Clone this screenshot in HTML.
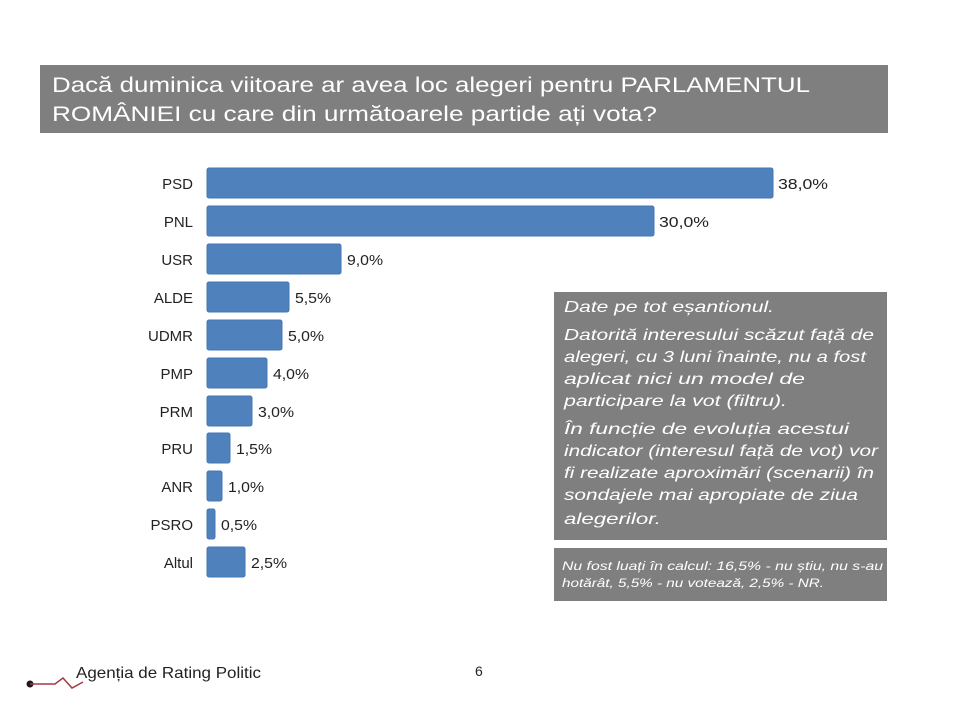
<!DOCTYPE html>
<html>
<head>
<meta charset="utf-8">
<style>
html,body{margin:0;padding:0;background:#fff;}
svg{display:block;}
text{font-family:"Liberation Sans",sans-serif;}
</style>
</head>
<body>
<svg width="960" height="720" viewBox="0 0 960 720" xmlns="http://www.w3.org/2000/svg">
  <rect x="0" y="0" width="960" height="720" fill="#ffffff"/>

  <!-- Title -->
  <rect x="40" y="65" width="848" height="68" fill="#7f7f7f"/>
  <text x="52" y="92" font-size="21" fill="#ffffff" textLength="758" lengthAdjust="spacingAndGlyphs">Dacă duminica viitoare ar avea loc alegeri pentru PARLAMENTUL</text>
  <text x="52" y="121" font-size="21" fill="#ffffff" textLength="605" lengthAdjust="spacingAndGlyphs">ROMÂNIEI cu care din următoarele partide ați vota?</text>

  <!-- Bars -->
  <g fill="#4f81bd" stroke="#4677b3" stroke-width="1">
    <rect x="207" y="168" width="566" height="30" rx="2"/>
    <rect x="207" y="206" width="447" height="30" rx="2"/>
    <rect x="207" y="244" width="134" height="30" rx="2"/>
    <rect x="207" y="282" width="82" height="30" rx="2"/>
    <rect x="207" y="320" width="75" height="30" rx="2"/>
    <rect x="207" y="358" width="60" height="30" rx="2"/>
    <rect x="207" y="396" width="45" height="30" rx="2"/>
    <rect x="207" y="433" width="23" height="30" rx="2"/>
    <rect x="207" y="471" width="15" height="30" rx="2"/>
    <rect x="207" y="509" width="8" height="30" rx="2"/>
    <rect x="207" y="547" width="38" height="30" rx="2"/>
  </g>

  <!-- Category labels -->
  <g font-size="15" fill="#222222" text-anchor="end">
    <text x="193" y="189">PSD</text>
    <text x="193" y="227">PNL</text>
    <text x="193" y="265">USR</text>
    <text x="193" y="303">ALDE</text>
    <text x="193" y="341">UDMR</text>
    <text x="193" y="379">PMP</text>
    <text x="193" y="417">PRM</text>
    <text x="193" y="454">PRU</text>
    <text x="193" y="492">ANR</text>
    <text x="193" y="530">PSRO</text>
    <text x="193" y="568">Altul</text>
  </g>

  <!-- Value labels -->
  <g font-size="15" fill="#222222">
    <text x="778" y="189" textLength="50" lengthAdjust="spacingAndGlyphs">38,0%</text>
    <text x="659" y="227" textLength="50" lengthAdjust="spacingAndGlyphs">30,0%</text>
    <text x="347" y="265" textLength="36" lengthAdjust="spacingAndGlyphs">9,0%</text>
    <text x="295" y="303" textLength="36" lengthAdjust="spacingAndGlyphs">5,5%</text>
    <text x="288" y="341" textLength="36" lengthAdjust="spacingAndGlyphs">5,0%</text>
    <text x="273" y="379" textLength="36" lengthAdjust="spacingAndGlyphs">4,0%</text>
    <text x="258" y="417" textLength="36" lengthAdjust="spacingAndGlyphs">3,0%</text>
    <text x="236" y="454" textLength="36" lengthAdjust="spacingAndGlyphs">1,5%</text>
    <text x="228" y="492" textLength="36" lengthAdjust="spacingAndGlyphs">1,0%</text>
    <text x="221" y="530" textLength="36" lengthAdjust="spacingAndGlyphs">0,5%</text>
    <text x="251" y="568" textLength="36" lengthAdjust="spacingAndGlyphs">2,5%</text>
  </g>

  <!-- Note box -->
  <rect x="554" y="292" width="333" height="248" fill="#7f7f7f"/>
  <g font-size="16" font-style="italic" fill="#ffffff">
    <text x="564" y="312" textLength="210" lengthAdjust="spacingAndGlyphs">Date pe tot eșantionul.</text>
    <text x="564" y="340" textLength="310" lengthAdjust="spacingAndGlyphs">Datorită interesului scăzut față de</text>
    <text x="564" y="362" textLength="302" lengthAdjust="spacingAndGlyphs">alegeri, cu 3 luni înainte, nu a fost</text>
    <text x="564" y="384" textLength="241" lengthAdjust="spacingAndGlyphs">aplicat nici un model de</text>
    <text x="564" y="406" textLength="223" lengthAdjust="spacingAndGlyphs">participare la vot (filtru).</text>
    <text x="564" y="434" textLength="285" lengthAdjust="spacingAndGlyphs">În funcție de evoluția acestui</text>
    <text x="564" y="456" textLength="314" lengthAdjust="spacingAndGlyphs">indicator (interesul față de vot) vor</text>
    <text x="564" y="478" textLength="310" lengthAdjust="spacingAndGlyphs">fi realizate aproximări (scenarii) în</text>
    <text x="564" y="500" textLength="294" lengthAdjust="spacingAndGlyphs">sondajele mai apropiate de ziua</text>
    <text x="564" y="524" textLength="97" lengthAdjust="spacingAndGlyphs">alegerilor.</text>
  </g>

  <!-- Small note box -->
  <rect x="554" y="548" width="333" height="53" fill="#7f7f7f"/>
  <g font-size="12" font-style="italic" fill="#ffffff">
    <text x="562" y="570" textLength="321" lengthAdjust="spacingAndGlyphs">Nu fost luați în calcul: 16,5% - nu știu, nu s-au</text>
    <text x="562" y="587" textLength="262" lengthAdjust="spacingAndGlyphs">hotărât, 5,5% - nu votează, 2,5% - NR.</text>
  </g>

  <!-- Footer logo -->
  <circle cx="30" cy="684" r="3.5" fill="#1a1a1a"/>
  <polyline points="30,684 55,684 63,678 72,688 83,682" fill="none" stroke="#a33a42" stroke-width="1.5"/>
  <text x="76" y="678" font-size="16" fill="#222222" textLength="185" lengthAdjust="spacingAndGlyphs">Agenția de Rating Politic</text>
  <text x="475" y="676" font-size="14" fill="#222222">6</text>
</svg>
</body>
</html>
